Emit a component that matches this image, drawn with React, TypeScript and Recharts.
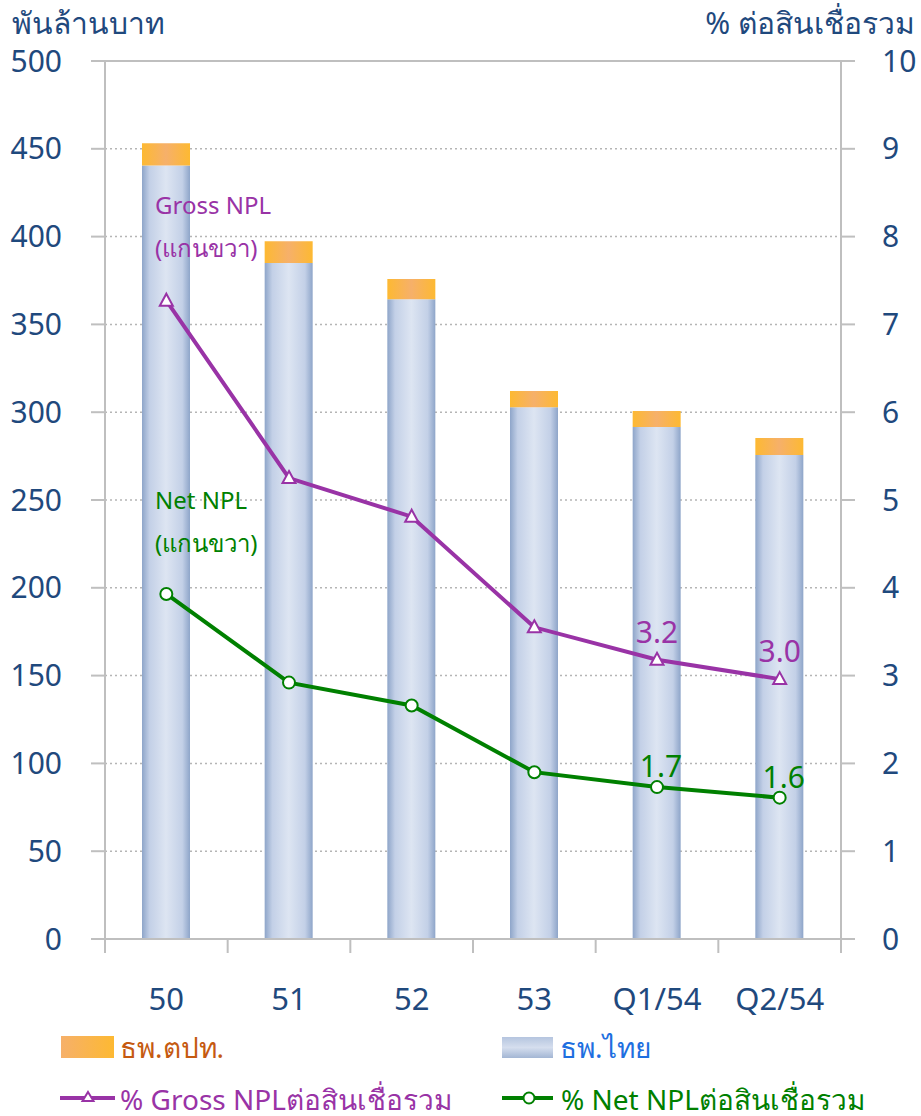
import React from "react";
import {
  Bar,
  CartesianGrid,
  ComposedChart,
  LabelList,
  Line,
  ReferenceLine,
  XAxis,
  YAxis,
} from "recharts";

const CATEGORIES = ["50", "51", "52", "53", "Q1/54", "Q2/54"];
const THAI_BANKS = [440.5, 385, 364.3, 302.8, 291.6, 275.6];
const FOREIGN_BANKS = [12.6, 12.3, 11.6, 9.3, 9.1, 9.7];
const GROSS_NPL = [7.27, 5.25, 4.81, 3.55, 3.18, 2.96];
const NET_NPL = [3.93, 2.92, 2.66, 1.9, 1.73, 1.61];
const LEFT_TICKS = [0, 50, 100, 150, 200, 250, 300, 350, 400, 450, 500];
const RIGHT_TICKS = [0, 1, 2, 3, 4, 5, 6, 7, 8, 9, 10];

const FONT = "'Noto Sans', 'Open Sans', sans-serif";
const NAVY = "#1F497D";
const AXIS = "#BFBFBF";
const PURPLE = "#9933A6";
const GREEN = "#008000";

const W = 921;
const H = 1116;
const PLOT_LEFT = 105;
const PLOT_RIGHT = 841;
const BAND = (PLOT_RIGHT - PLOT_LEFT) / CATEGORIES.length;

const data = CATEGORIES.map((c, i) => ({
  name: c,
  thai: THAI_BANKS[i],
  foreign: FOREIGN_BANKS[i],
  gross: GROSS_NPL[i],
  net: NET_NPL[i],
}));

function XTick(props: any) {
  const { x, y, payload, index } = props;
  const last = index === CATEGORIES.length - 1;
  return (
    <g>
      <line x1={x - BAND / 2} x2={x - BAND / 2} y1={y} y2={y + 14} stroke={AXIS} strokeWidth={2} />
      {last && <line x1={x + BAND / 2} x2={x + BAND / 2} y1={y} y2={y + 14} stroke={AXIS} strokeWidth={2} />}
      <text x={x} y={y + 71} textAnchor="middle" fill={NAVY} fontSize={31} fontFamily={FONT}>
        {payload.value}
      </text>
    </g>
  );
}

function TriangleDot(props: any) {
  const { cx, cy } = props;
  if (cx == null || cy == null) return null;
  return (
    <path
      d={`M${cx},${cy - 7} L${cx + 6.5},${cy + 5} L${cx - 6.5},${cy + 5} Z`}
      fill="#fff"
      stroke={PURPLE}
      strokeWidth={2}
    />
  );
}

function CircleDot(props: any) {
  const { cx, cy } = props;
  if (cx == null || cy == null) return null;
  return <circle cx={cx} cy={cy} r={6} fill="#fff" stroke={GREEN} strokeWidth={2} />;
}

const lastLabel = (color: string, dy: number, dx: number) => (props: any) => {
  const { x, y, value, index } = props;
  if (index < CATEGORIES.length - 2) return null;
  return (
    <text x={x + dx} y={y + dy} textAnchor="middle" fill={color} fontSize={30} fontFamily={FONT}>
      {Number(value).toFixed(1)}
    </text>
  );
};

const abs = (left: number, top: number, extra: React.CSSProperties = {}): React.CSSProperties => ({
  position: "absolute",
  left,
  top,
  fontFamily: FONT,
  whiteSpace: "nowrap",
  ...extra,
});

export default function App() {
  return (
    <div style={{ position: "absolute", left: 0, top: 0, width: W, height: H, background: "#fff" }}>
      <ComposedChart
        width={W}
        height={H}
        data={data}
        margin={{ top: 61, right: 0, left: 0, bottom: 117 }}
        barCategoryGap={0}
      >
        <defs>
          <linearGradient id="thaiFill" x1="0" y1="0" x2="1" y2="0">
            <stop offset="0%" stopColor="#8EA5C9" />
            <stop offset="16%" stopColor="#C3D0E7" />
            <stop offset="50%" stopColor="#DDE5F2" />
            <stop offset="84%" stopColor="#C3D0E7" />
            <stop offset="100%" stopColor="#8EA5C9" />
          </linearGradient>
          <linearGradient id="foreignFill" x1="0" y1="0" x2="1" y2="0">
            <stop offset="0%" stopColor="#FDB932" />
            <stop offset="50%" stopColor="#F6B06A" />
            <stop offset="100%" stopColor="#FDB932" />
          </linearGradient>
        </defs>
        <CartesianGrid vertical={false} yAxisId="left" stroke="#B5B5B5" strokeDasharray="2 3" strokeWidth={1.5} />
        <XAxis
          dataKey="name"
          xAxisId={0}
          interval={0}
          height={60}
          tickSize={0}
          tickMargin={0}
          tickLine={false}
          axisLine={{ stroke: AXIS, strokeWidth: 2 }}
          tick={<XTick />}
        />
        <YAxis
          yAxisId="left"
          orientation="left"
          width={PLOT_LEFT}
          domain={[0, 500]}
          ticks={LEFT_TICKS}
          interval={0}
          tickSize={14}
          tickMargin={29}
          tickLine={{ stroke: AXIS, strokeWidth: 2 }}
          axisLine={{ stroke: AXIS, strokeWidth: 2 }}
          tick={{ fill: NAVY, fontSize: 30, fontFamily: FONT }}
        />
        <YAxis
          yAxisId="right"
          orientation="right"
          width={W - PLOT_RIGHT}
          domain={[0, 10]}
          ticks={RIGHT_TICKS}
          interval={0}
          tickSize={14}
          tickMargin={27}
          tickLine={{ stroke: AXIS, strokeWidth: 2 }}
          axisLine={{ stroke: AXIS, strokeWidth: 2 }}
          tick={{ fill: NAVY, fontSize: 30, fontFamily: FONT }}
        />
        <ReferenceLine yAxisId="left" y={500} stroke={AXIS} strokeWidth={2} />
        <Bar dataKey="thai" stackId="a" yAxisId="left" barSize={48} fill="url(#thaiFill)" isAnimationActive={false} />
        <Bar dataKey="foreign" stackId="a" yAxisId="left" barSize={48} fill="url(#foreignFill)" isAnimationActive={false} />
        <Line
          dataKey="gross"
          yAxisId="right"
          stroke={PURPLE}
          strokeWidth={4}
          dot={<TriangleDot />}
          activeDot={false}
          isAnimationActive={false}
        >
          <LabelList dataKey="gross" content={lastLabel(PURPLE, -17, 0)} />
        </Line>
        <Line
          dataKey="net"
          yAxisId="right"
          stroke={GREEN}
          strokeWidth={4}
          dot={<CircleDot />}
          activeDot={false}
          isAnimationActive={false}
        >
          <LabelList dataKey="net" content={lastLabel(GREEN, -10, 4)} />
        </Line>
      </ComposedChart>

      {/* axis titles */}
      <div style={abs(12, 8, { color: NAVY, fontSize: 30, lineHeight: "30px" })}>พันล้านบาท</div>
      <div style={abs(0, 8, { color: NAVY, fontSize: 30, lineHeight: "30px", width: 915, textAlign: "right" })}>
        % ต่อสินเชื่อรวม
      </div>

      {/* annotations */}
      <div style={abs(155, 183, { color: PURPLE, fontSize: 24, lineHeight: "43px" })}>
        Gross NPL
        <br />
        (แกนขวา)
      </div>
      <div style={abs(155, 478, { color: GREEN, fontSize: 24, lineHeight: "43px" })}>
        Net NPL
        <br />
        (แกนขวา)
      </div>

      {/* legend */}
      <svg style={{ position: "absolute", left: 0, top: 1020 }} width={W} height={96}>
        <defs>
          <linearGradient id="foreignLeg" x1="0" y1="0" x2="1" y2="0">
            <stop offset="0%" stopColor="#F6B06A" />
            <stop offset="100%" stopColor="#FDB932" />
          </linearGradient>
          <linearGradient id="thaiLeg" x1="0" y1="0" x2="0" y2="1">
            <stop offset="0%" stopColor="#B5C5DF" />
            <stop offset="50%" stopColor="#D5DEEE" />
            <stop offset="100%" stopColor="#A3B6D4" />
          </linearGradient>
        </defs>
        <rect x={61} y={16} width={53} height={22} fill="url(#foreignLeg)" />
        <rect x={502} y={17} width={51} height={21} fill="url(#thaiLeg)" />
        <line x1={60} x2={115} y1={78} y2={78} stroke={PURPLE} strokeWidth={4} />
        <path d="M88,72 L93.5,81 L82.5,81 Z" fill="#fff" stroke={PURPLE} strokeWidth={2} />
        <line x1={502} x2={553} y1={78} y2={78} stroke={GREEN} strokeWidth={4} />
        <circle cx={529} cy={78} r={5.5} fill="#fff" stroke={GREEN} strokeWidth={2} />
      </svg>
      <div style={abs(120, 1026, { color: "#C55A11", fontSize: 28 })}>ธพ.ตปท.</div>
      <div style={abs(560, 1026, { color: "#1E6FE0", fontSize: 28 })}>ธพ.ไทย</div>
      <div style={abs(120, 1078, { color: PURPLE, fontSize: 28 })}>% Gross NPLต่อสินเชื่อรวม</div>
      <div style={abs(561, 1078, { color: GREEN, fontSize: 28 })}>% Net NPLต่อสินเชื่อรวม</div>
    </div>
  );
}
